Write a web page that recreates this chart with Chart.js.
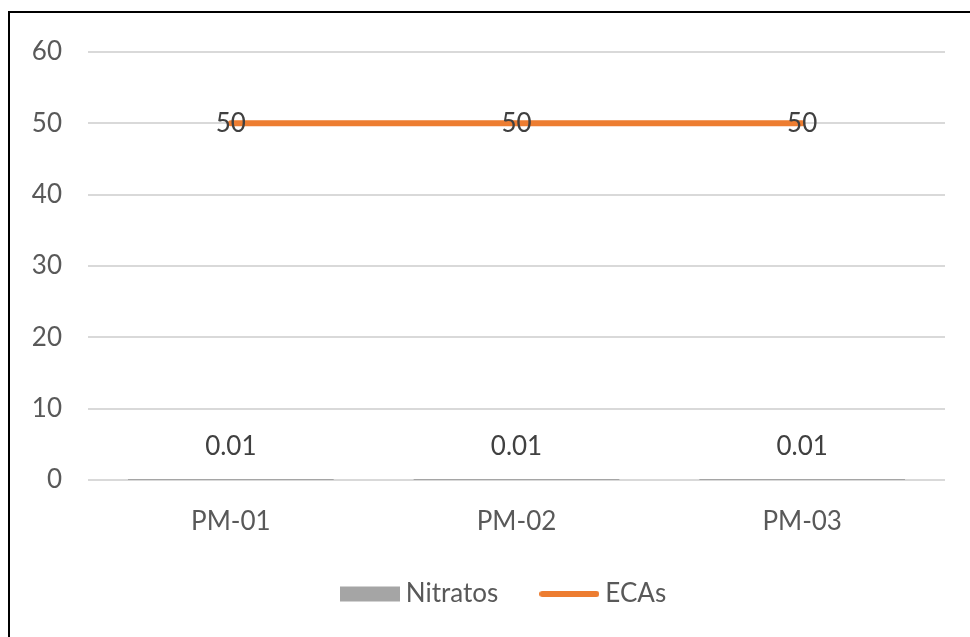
<!DOCTYPE html>
<html>
<head>
<meta charset="utf-8">
<script src="https://cdn.jsdelivr.net/npm/chart.js@4"></script>
<style>
  html, body { margin: 0; padding: 0; background: #fff; }
  #wrap { position: relative; width: 970px; height: 637px; }
  #frame { position: absolute; left: 8px; top: 11px; right: 0; bottom: 0; border-left: 2px solid #000; border-top: 2px solid #000; pointer-events: none; }
  canvas { position: absolute; left: 0; top: 0; }
</style>
</head>
<body>
<div id="wrap">
  <canvas id="c" width="970" height="637"></canvas>
  <div id="frame"></div>
</div>
<script>
const categories = ["PM-01", "PM-02", "PM-03"];
const nitratos = [0.01, 0.01, 0.01];
const ecas = [50, 50, 50];
const yTicks = [0, 10, 20, 30, 40, 50, 60];

const FONT = "Lato, 'Open Sans', sans-serif";
const FS = 26;
const BAR_COLOR = '#a5a5a5';
const LINE_COLOR = '#ed7d31';

function makeSwatch(kind) {
  const cv = document.createElement('canvas');
  cv.width = 60; cv.height = 16;
  const g = cv.getContext('2d');
  if (kind === 'bar') {
    g.fillStyle = BAR_COLOR;
    g.fillRect(0, 0.5, 60, 15);
  } else {
    g.strokeStyle = LINE_COLOR;
    g.lineWidth = 6;
    g.lineCap = 'round';
    g.beginPath();
    g.moveTo(3, 8);
    g.lineTo(57, 8);
    g.stroke();
  }
  return cv;
}
const barSwatch = makeSwatch('bar');
const lineSwatch = makeSwatch('line');

const labelPlugin = {
  id: 'valueLabels',
  afterDatasetsDraw(chart) {
    const ctx = chart.ctx;
    ctx.save();
    ctx.font = FS + "px " + FONT;
    ctx.fillStyle = "#404040";
    ctx.textAlign = "center";
    ctx.textBaseline = "middle";
    chart.data.datasets.forEach((ds, di) => {
      const meta = chart.getDatasetMeta(di);
      meta.data.forEach((el, i) => {
        const v = ds.data[i];
        if (ds.type === 'bar') {
          ctx.fillText(String(v), el.x, el.y - 33);
        } else {
          ctx.fillText(String(v), el.x, el.y);
        }
      });
    });
    ctx.restore();
  }
};

const legendShift = {
  id: 'legendShift',
  afterLayout(chart) {
    const lg = chart.legend;
    if (lg) { lg.left += 34; lg.right += 34; }
  }
};

new Chart(document.getElementById('c'), {
  data: {
    labels: categories,
    datasets: [
      {
        type: 'bar',
        label: 'Nitratos',
        data: nitratos,
        backgroundColor: BAR_COLOR,
        borderWidth: 0,
        order: 2
      },
      {
        type: 'line',
        label: 'ECAs',
        data: ecas,
        borderColor: LINE_COLOR,
        backgroundColor: LINE_COLOR,
        borderWidth: 6,
        borderCapStyle: 'round',
        pointRadius: 0,
        pointHoverRadius: 0,
        fill: false,
        order: 1
      }
    ]
  },
  options: {
    responsive: false,
    animation: false,
    devicePixelRatio: 1,
    layout: { padding: { left: 0, right: 25, top: 52, bottom: 20 } },
    plugins: {
      tooltip: { enabled: false },
      legend: {
        position: 'bottom',
        labels: {
          usePointStyle: true,
          pointStyleWidth: 46,
          boxHeight: 15,
          padding: 48,
          color: '#595959',
          font: { family: FONT, size: FS },
          generateLabels(chart) {
            return chart.data.datasets.map((ds, i) => ({
              text: ds.label,
              fillStyle: ds.type === 'bar' ? BAR_COLOR : LINE_COLOR,
              strokeStyle: ds.type === 'bar' ? BAR_COLOR : LINE_COLOR,
              lineWidth: 0,
              pointStyle: ds.type === 'bar' ? barSwatch : lineSwatch,
              datasetIndex: i,
              hidden: false,
              fontColor: '#595959'
            }));
          }
        }
      }
    },
    scales: {
      x: {
        grid: { display: false, drawTicks: false },
        border: { display: false },
        ticks: { color: '#595959', font: { family: FONT, size: FS }, padding: 26 },
        afterFit(scale) { scale.height = 53; }
      },
      y: {
        min: 0,
        max: 60,
        afterBuildTicks(scale) { scale.ticks = yTicks.map(v => ({ value: v })); },
        grid: { color: '#d9d9d9', lineWidth: 2, drawTicks: false },
        border: { display: false },
        ticks: { color: '#595959', font: { family: FONT, size: FS }, padding: 26 },
        afterFit(scale) { scale.width = 88; }
      }
    }
  },
  plugins: [labelPlugin, legendShift]
});
</script>
</body>
</html>
